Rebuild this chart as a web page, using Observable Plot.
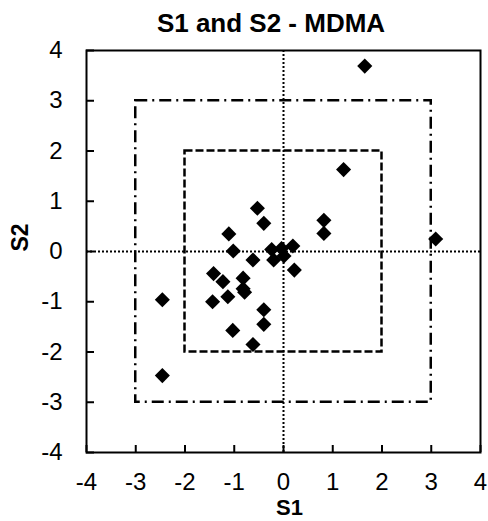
<!DOCTYPE html>
<html>
<head>
<meta charset="utf-8">
<script src="https://cdn.jsdelivr.net/npm/d3@7"></script>
<script src="https://cdn.jsdelivr.net/npm/@observablehq/plot@0.6"></script>
<style>
  body { margin: 0; background: #fff; }
  #wrap { width: 488px; height: 521px; overflow: hidden; font-family: "Liberation Sans", Arial, sans-serif; }
  #title { height: 24px; line-height: 24px; font-size: 26px; font-weight: bold; text-align: center; padding-left: 54px; color: #000; white-space: nowrap; }
  #title span { position: relative; top: 11px; }
  #chart svg { display: block; }
</style>
</head>
<body>
<div id="wrap">
  <div id="title"><span id="titleText"></span></div>
  <div id="chart"></div>
</div>
<script>
const titleText = "S1 and S2 - MDMA";
const xLabel = "S1";
const yLabel = "S2";
const tickValues = [-4, -3, -2, -1, 0, 1, 2, 3, 4];

const s1 = [1.22, -0.53, -0.40, -1.11, -1.02, -0.62, -0.24, -0.04, 0.19, -0.20, 0.01, 0.22,
            -1.42, -1.23, -0.82, -0.82, -0.79, -1.13, -1.44, -2.46, -0.40, -0.40, -1.03, -0.62,
            -2.46, 1.65, 0.82, 0.82, 3.09];
const s2 = [1.63, 0.86, 0.56, 0.35, 0.01, -0.17, 0.04, 0.06, 0.11, -0.17, -0.09, -0.37,
            -0.44, -0.60, -0.53, -0.74, -0.81, -0.90, -1.00, -0.96, -1.16, -1.45, -1.57, -1.85,
            -2.47, 3.69, 0.62, 0.36, 0.25];

const innerBox = 2;   // dashed square half-width
const outerBox = 3;   // dash-dot square half-width

const points = s1.map((v, i) => ({s1: v, s2: s2[i]}));
const boxes = [
  {x1: -innerBox, x2: innerBox, y1: -innerBox, y2: innerBox, dash: "8,3"},
  {x1: -outerBox, x2: outerBox, y1: -outerBox, y2: outerBox, dash: "12,5,2,5"}
];

document.getElementById("titleText").textContent = titleText;

const fmt = d => String(d);

const chart = Plot.plot({
  width: 488,
  height: 497,
  marginLeft: 86,
  marginRight: 8,
  marginTop: 26,
  marginBottom: 69,
  style: {fontFamily: "'Liberation Sans', Arial, sans-serif", color: "#000", background: "transparent", overflow: "visible"},
  x: {domain: [-4, 4], label: null},
  y: {domain: [-4, 4], label: null},
  marks: [
    Plot.ruleX([0], {stroke: "#000", strokeWidth: 2, strokeDasharray: "2,2"}),
    Plot.ruleY([0], {stroke: "#000", strokeWidth: 2, strokeDasharray: "2,2"}),
    ...boxes.map(b => Plot.rect([b], {x1: "x1", x2: "x2", y1: "y1", y2: "y2", fill: "none", stroke: "#000", strokeWidth: 2.5, strokeDasharray: b.dash})),
    Plot.axisX(tickValues, {anchor: "bottom", tickSize: 7, dy: -7, fill: "none", strokeWidth: 2, label: null}),
    Plot.axisX(tickValues, {anchor: "bottom", tickSize: 0, tickPadding: 20, fontSize: 24, tickFormat: fmt, label: null}),
    Plot.axisY(tickValues, {anchor: "left", tickSize: 8, dx: 8, fill: "none", strokeWidth: 2, label: null}),
    Plot.axisY(tickValues, {anchor: "left", tickSize: 0, tickPadding: 24, fontSize: 24, tickFormat: fmt, label: null}),
    Plot.frame({stroke: "#000", strokeWidth: 2}),
    Plot.dot(points, {x: "s1", y: "s2", symbol: "diamond2", r: 6.8, fill: "#000", stroke: "none"}),
    Plot.text([xLabel], {frameAnchor: "bottom", dy: 62, dx: 6, fontSize: 22, fontWeight: "bold", fill: "#000"}),
    Plot.text([yLabel], {frameAnchor: "left", dx: -66, rotate: -90, fontSize: 23, fontWeight: "bold", fill: "#000"})
  ]
});
document.getElementById("chart").appendChild(chart);
</script>
</body>
</html>
